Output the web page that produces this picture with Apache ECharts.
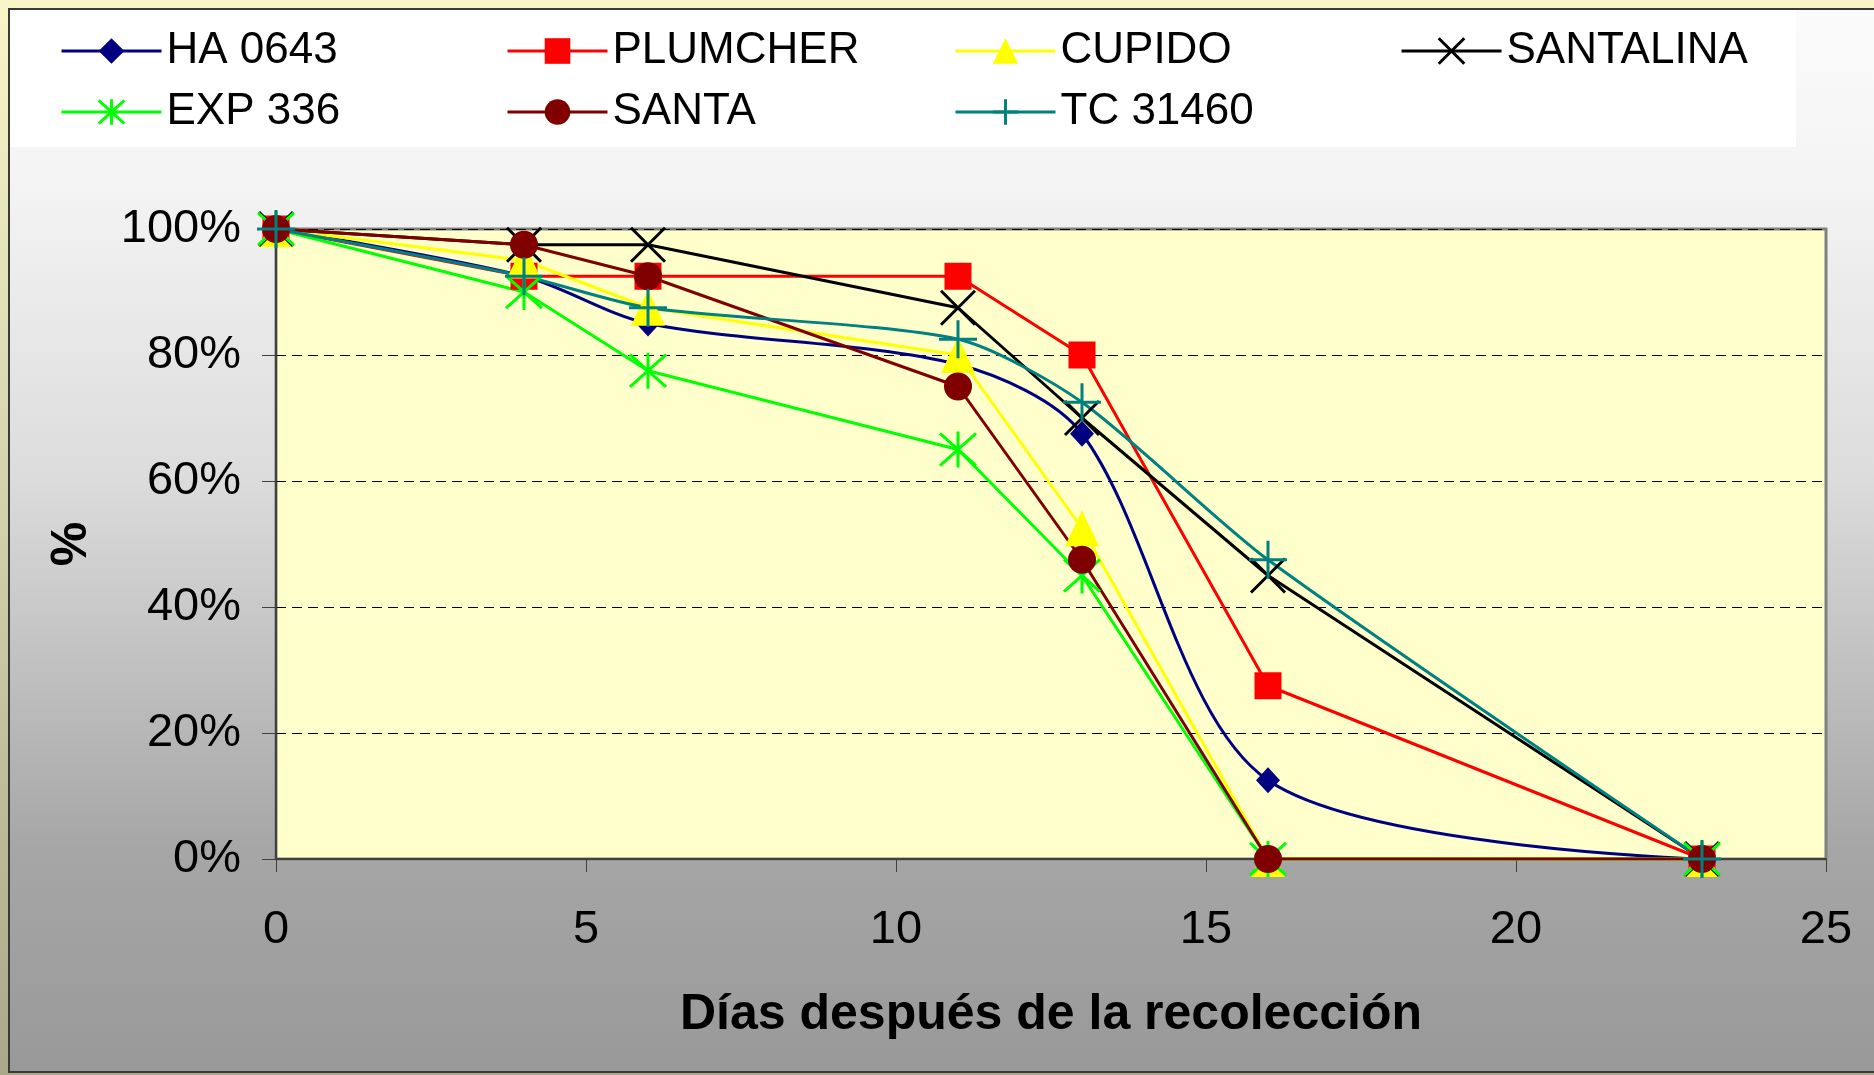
<!DOCTYPE html>
<html>
<head>
<meta charset="utf-8">
<script src="https://cdn.jsdelivr.net/npm/echarts@6/dist/echarts.min.js"></script>
<style>
html,body{margin:0;padding:0;background:#fff;}
#chart{width:1874px;height:1075px;}
</style>
</head>
<body>
<div id="chart"></div>
<script>
// ---- data ----
const days = [0, 4, 6, 11, 13, 16, 23];
const seriesNames = ['HA 0643', 'PLUMCHER', 'CUPIDO', 'SANTALINA', 'EXP 336', 'SANTA', 'TC 31460'];
const ha0643 = [100, 92.5, 85, 78.5, 67.5, 12.5, 0];
const plumcher = [100, 92.5, 92.5, 92.5, 80, 27.5, 0];
const cupido = [100, 95, 87.5, 80, 52.5, 0, 0];
const santalina = [100, 97.5, 97.5, 87.5, 70, 45, 0];
const exp336 = [100, 90, 77.5, 65, 45, 0, 0];
const santa = [100, 97.5, 92.5, 75, 47.5, 0, 0];
const tc31460 = [100, 92.5, 87.5, 82.5, 72.5, 47.5, 0];
const xAxisTitle = 'Días después de la recolección';
const yAxisTitle = '%';

// ---- styling ----
const FONT = '"Liberation Sans", Arial, sans-serif';
const X_PATH = 'path://M0,0L10,10M0,10L10,0';
const PLUS_PATH = 'path://M5,0L5,10M0,5L10,5';
const STAR_PATH = 'path://M5,0L5,10M0.5,0.5L9.5,9.5M9.5,0.5L0.5,9.5';

const styles = [
  {color: '#000080', symbol: 'diamond', size: [24, 26], smooth: 0.3, stroke: false},
  {color: '#ff0000', symbol: 'rect', size: 27, smooth: false, stroke: false},
  {color: '#ffff00', symbol: 'triangle', size: [34, 36], smooth: false, stroke: false},
  {color: '#000000', symbol: X_PATH, size: 34, smooth: false, stroke: true},
  {color: '#00ff00', symbol: STAR_PATH, size: 36, smooth: false, stroke: true},
  {color: '#800000', symbol: 'circle', size: 28, smooth: false, stroke: false},
  {color: '#008080', symbol: PLUS_PATH, size: 38, smooth: 0.25, stroke: true}
];
const values = [ha0643, plumcher, cupido, santalina, exp336, santa, tc31460];

const series = seriesNames.map((name, i) => {
  const s = styles[i];
  return {
    name: name,
    type: 'line',
    data: days.map((d, k) => [d, values[i][k]]),
    smooth: s.smooth,
    symbol: s.symbol,
    symbolSize: s.size,
    showAllSymbol: true,
    lineStyle: {color: s.color, width: 3},
    itemStyle: {color: s.color, borderColor: s.color, borderWidth: s.stroke ? 3 : 0, opacity: 1},
    emphasis: {disabled: true},
    animation: false
  };
});

const legendCommon = {
  orient: 'vertical',
  itemWidth: 100,
  itemHeight: 32,
  itemGap: 5,
  padding: 0,
  selectedMode: false,
  lineStyle: {width: 3},
  textStyle: {fontFamily: FONT, fontSize: 44, color: '#000', lineHeight: 44, padding: [0, 0, 12, 0]}
};
const legendCols = [
  {left: 60, idx: [0, 4]},
  {left: 506, idx: [1, 5]},
  {left: 954, idx: [2, 6]},
  {left: 1400, idx: [3]}
];

const option = {
  animation: false,
  backgroundColor: {
    type: 'linear', x: 0, y: 0, x2: 0, y2: 1,
    colorStops: [{offset: 0, color: '#f8f5c9'}, {offset: 1, color: '#a9a98a'}]
  },
  graphic: [
    {
      type: 'rect', z: -10, silent: true,
      shape: {x: 9, y: 9, width: 1875, height: 1063},
      style: {
        fill: {
          type: 'linear', x: 0, y: 0, x2: 0, y2: 1,
          colorStops: [
            {offset: 0, color: '#fbfbfb'},
            {offset: 0.16, color: '#f4f4f4'},
            {offset: 0.44, color: '#dcdcdc'},
            {offset: 0.79, color: '#a6a6a6'},
            {offset: 1, color: '#999999'}
          ]
        },
        stroke: '#3a3a3a', lineWidth: 2
      }
    },
    {
      type: 'rect', z: -9, silent: true,
      shape: {x: 10, y: 10, width: 1786, height: 137},
      style: {fill: '#ffffff'}
    }
  ],
  legend: legendCols.map(c => Object.assign({}, legendCommon, {
    left: c.left, top: 23,
    data: c.idx.map(i => ({
      name: seriesNames[i],
      itemStyle: {color: styles[i].color, borderColor: styles[i].color, borderWidth: styles[i].stroke ? 3 : 0}
    }))
  })),
  grid: {
    left: 276, right: 48, top: 229, bottom: 216,
    show: true,
    backgroundColor: '#ffffcc',
    borderColor: '#808080',
    borderWidth: 3,
    outerBoundsMode: 'none',
    containLabel: false
  },
  xAxis: {
    type: 'value',
    min: 0, max: 25, interval: 5,
    name: xAxisTitle,
    nameLocation: 'middle',
    nameGap: 131,
    nameTextStyle: {fontFamily: FONT, fontSize: 50, fontWeight: 'bold', color: '#000'},
    axisLine: {show: true, onZero: false, lineStyle: {color: '#404040', width: 2}},
    axisTick: {show: true, length: 13, inside: false, lineStyle: {color: '#404040', width: 1}},
    axisLabel: {fontFamily: FONT, fontSize: 47, color: '#000', margin: 48},
    splitLine: {show: false}
  },
  yAxis: {
    type: 'value',
    min: 0, max: 100, interval: 20,
    name: yAxisTitle,
    nameLocation: 'middle',
    nameRotate: 90,
    nameGap: 179,
    nameTextStyle: {fontFamily: FONT, fontSize: 50, fontWeight: 'bold', color: '#000'},
    axisLine: {show: true, onZero: false, lineStyle: {color: '#404040', width: 2}},
    axisTick: {show: true, length: 14, inside: false, lineStyle: {color: '#404040', width: 1}},
    axisLabel: {fontFamily: FONT, fontSize: 47, color: '#000', margin: 35, formatter: '{value}%'},
    splitLine: {show: true, lineStyle: {color: '#000', width: 1, type: [10, 6]}}
  },
  series: series
};

const chart = echarts.init(document.getElementById('chart'), null, {renderer: 'canvas'});
chart.setOption(option);
</script>
</body>
</html>
